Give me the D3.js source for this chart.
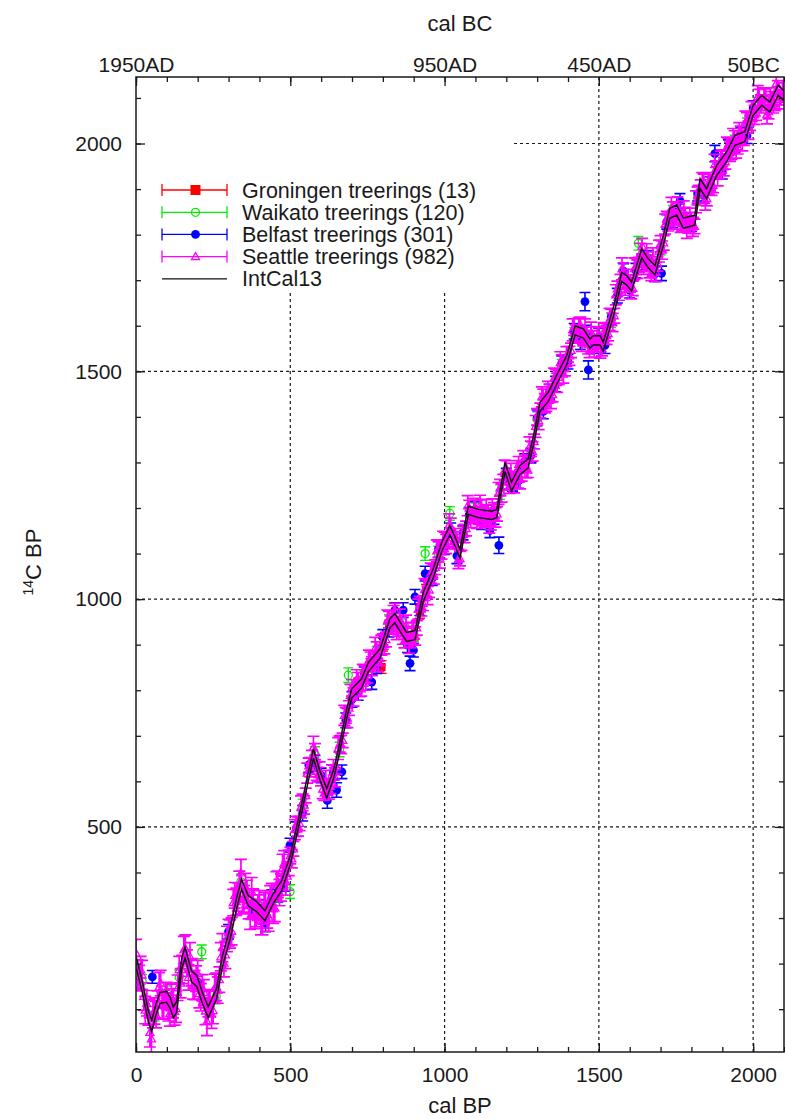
<!DOCTYPE html>
<html><head><meta charset="utf-8">
<script src="https://cdn.jsdelivr.net/npm/d3@7/dist/d3.min.js"></script>
<style>body{margin:0;background:#fff}svg{display:block}</style>
</head><body>
<svg id="c" width="785" height="1119"></svg>
<script>
// ---------- DATA ----------
const intcalBP = [0,20,40,51,65,78,99,110,121,132,148,159,180,197,215,234,261,280,305,326,342,364,391,418,445,472,500,531,555,575,595,618,640,656,683,699,731,753,791,823,839,860,877,904,931,963,991,1017,1035,1050,1077,1109,1153,1169,1196,1217,1244,1271,1293,1309,1336,1363,1396,1423,1450,1471,1482,1504,1514,1547,1574,1590,1606,1639,1660,1682,1710,1730,1752,1774,1811,1828,1849,1882,1914,1941,1973,2000,2028,2054,2081,2100];
const intcalC14 = [205,150,85,63,100,125,127,115,93,105,200,224,172,162,125,93,134,205,266,332,374,338,325,305,343,371,427,522,600,661,615,574,615,661,749,793,815,851,881,947,958,935,917,921,1005,1056,1115,1151,1125,1100,1195,1188,1184,1188,1290,1247,1283,1298,1364,1422,1444,1481,1525,1590,1583,1561,1568,1568,1554,1630,1707,1700,1686,1759,1737,1722,1790,1847,1854,1825,1832,1912,1890,1941,1971,2007,2015,2073,2095,2080,2117,2105];
const intcalSigma = [12,12,12,12,12,12,12,12,12,12,12,12,12,12,12,12,12,12,12,12,11,11,11,11,11,11,10,10,10,10,10,10,10,10,10,10,10,10,10,10,10,10,10,10,10,10,10,10,10,10,9,9,9,9,10,10,10,10,10,10,10,10,10,10,10,10,10,10,10,10,10,10,10,10,10,10,11,11,11,11,11,11,11,11,11,11,11,11,11,11,11,11];

// [cal BP, 14C BP, 1 sigma]
const groningen = [[720,812,14],[740,830,14],[760,855,14],[780,870,14],[796,851,14],[800,900,14],[820,940,14],[840,955,14],[860,932,14],[880,915,14],[900,922,14],[920,972,14],[940,1018,14]];
const waikato = [[20,160,16],[60,90,16],[100,135,16],[140,170,16],[213,226,15],[260,128,16],[300,255,16],[340,380,16],[380,335,16],[420,318,16],[460,350,16],[499,358,15],[540,545,16],[580,660,16],[620,585,16],[660,670,16],[688,833,16],[740,840,16],[780,880,16],[820,950,16],[860,940,16],[900,925,16],[937,1100,15],[980,1100,16],[1017,1188,15],[1060,1140,16],[1100,1195,16],[1140,1192,16],[1180,1235,16],[1220,1255,16],[1260,1300,16],[1300,1395,16],[1340,1455,16],[1380,1510,16],[1420,1580,16],[1460,1570,16],[1500,1572,16],[1540,1612,16],[1580,1708,16],[1628,1781,15],[1660,1740,16],[1700,1772,16],[1740,1848,16],[1780,1830,16],[1820,1880,16],[1860,1905,16],[1900,1960,16],[1940,2002,16],[1980,2040,16],[2020,2085,16],[2060,2092,16]];
const belfast = [[53,171,14],[100,120,16],[200,160,16],[300,270,16],[380,317,18],[400,322,18],[420,288,18],[440,345,17],[460,354,18],[480,376,17],[499,460,15],[520,495,16],[540,530,17],[560,636,16],[580,640,17],[600,613,16],[620,558,17],[640,620,16],[650,581,16],[667,621,15],[680,734,16],[700,780,17],[720,794,16],[740,835,16],[764,818,16],[780,853,16],[800,916,17],[820,933,16],[839,976,16],[866,976,16],[880,899,16],[888,859,16],[899,888,15],[904,1005,16],[920,980,16],[937,1056,16],[960,1046,16],[980,1109,17],[1000,1114,16],[1020,1151,16],[1040,1095,17],[1060,1146,16],[1080,1185,16],[1100,1197,17],[1120,1169,16],[1140,1190,16],[1147,1151,16],[1160,1180,16],[1176,1118,18],[1200,1271,16],[1220,1253,16],[1240,1260,17],[1260,1303,16],[1280,1315,16],[1300,1398,17],[1320,1412,16],[1340,1455,16],[1360,1472,17],[1380,1518,16],[1400,1521,16],[1420,1588,17],[1440,1566,18],[1455,1653,20],[1460,1583,18],[1466,1503,20],[1480,1557,18],[1500,1576,18],[1520,1557,18],[1540,1620,17],[1560,1666,16],[1580,1720,16],[1600,1678,17],[1620,1721,16],[1640,1739,16],[1660,1748,17],[1680,1713,16],[1703,1715,16],[1720,1828,16],[1740,1832,17],[1763,1874,16],[1780,1832,16],[1800,1824,17],[1820,1890,16],[1840,1886,16],[1860,1910,17],[1876,1978,18],[1900,1938,16],[1920,1991,17],[1940,1996,16],[1960,2020,16],[1980,2017,17],[2000,2078,16]];
const seattle = [[0,223,30],[5,177,31],[10,168,28],[15,187,29],[20,175,32],[25,128,30],[30,98,30],[35,113,28],[40,93,28],[45,49,32],[50,35,31],[55,89,30],[60,96,29],[65,88,29],[70,110,30],[75,149,31],[80,157,28],[85,108,30],[90,111,31],[95,130,28],[100,129,30],[105,105,31],[110,91,28],[115,126,29],[120,113,32],[125,95,30],[130,101,30],[135,147,28],[140,187,29],[145,157,32],[150,187,31],[155,230,30],[160,233,30],[165,201,29],[170,170,28],[175,215,31],[180,181,30],[185,152,30],[190,153,32],[195,167,28],[200,178,29],[205,134,31],[210,126,30],[215,147,29],[220,137,28],[225,96,30],[230,73,31],[235,111,28],[240,113,30],[245,90,32],[250,97,29],[255,147,30],[260,149,30],[265,142,29],[270,165,28],[275,215,31],[280,235,31],[285,201,30],[290,219,30],[295,254,28],[300,268,29],[305,265,31],[310,271,30],[315,334,29],[320,350,28],[325,336,30],[330,346,31],[335,375,28],[340,399,30],[345,341,32],[350,342,29],[355,368,30],[360,353,30],[365,327,29],[370,303,28],[375,358,31],[380,333,31],[385,307,30],[390,311,30],[395,323,28],[400,332,28],[405,294,31],[410,293,30],[415,327,29],[420,331,29],[425,308,30],[430,302,31],[435,343,28],[440,348,28],[445,320,32],[450,322,30],[455,372,30],[460,374,29],[465,356,29],[470,367,30],[475,409,31],[480,420,28],[485,380,30],[490,392,31],[495,421,28],
[500,437,18],[510,452,16],[520,506,17],[530,508,16],[540,554,18],[550,569,16],[560,634,17],[570,652,16],[580,665,18],[590,615,16],[600,607,17],[610,574,16],[620,588,18],[630,589,16],[640,631,17],[650,632,16],[660,682,18],[670,690,16],[680,745,17],[690,761,16],[700,805,18],[710,794,16],[720,822,17],[730,803,16],[740,836,18],[750,832,16],[760,867,17],[770,863,16],[780,888,18],[790,870,16],[800,907,17],[810,911,16],[820,955,18],[830,946,16],[840,974,17],[850,935,16],[860,942,18],[870,909,16],[880,922,17],[890,909,16],[900,930,18],[910,937,16],[920,989,17],[930,991,16],[940,1024,18],[950,1020,16],[960,1061,17],[970,1070,16],[980,1109,18],[990,1104,16],[1000,1130,17],[1010,1128,16],[1020,1160,18],[1030,1126,16],[1040,1131,17],[1050,1089,16],[1060,1142,18],[1070,1155,16],[1080,1200,17],[1090,1183,16],[1100,1199,18],[1110,1180,16],[1120,1201,17],[1130,1174,16],[1140,1189,18],[1150,1168,16],[1160,1195,17],[1170,1187,16],[1180,1245,18],[1190,1258,16],[1200,1287,17],[1210,1248,16],[1220,1262,18],[1230,1259,16],[1240,1296,17],[1250,1275,16],[1260,1299,18],[1270,1283,16],[1280,1330,17],[1290,1346,16],[1300,1400,18],[1310,1414,16],[1320,1444,17],[1330,1428,16],[1340,1454,18],[1350,1449,16],[1360,1487,17],[1370,1487,16],[1380,1518,18],[1390,1506,16],[1400,1537,17],[1410,1546,16],[1420,1597,18],[1430,1582,16],[1440,1602,17],[1450,1572,16],[1460,1579,18],[1470,1546,16],[1480,1572,17],[1490,1559,16],[1500,1578,18],[1510,1550,16],[1520,1589,17],[1530,1583,16],[1540,1619,18],[1550,1622,16],[1560,1681,17],[1570,1697,16],[1580,1720,18],[1590,1690,16],[1600,1694,17],[1610,1682,16],[1620,1730,18],[1630,1734,16],[1640,1775,17],[1650,1737,16],[1660,1744,18],[1670,1715,16],[1680,1728,17],[1690,1736,16],[1700,1780,18],[1710,1782,16],[1720,1834,17],[1730,1835,16],[1740,1854,18],[1750,1838,16],[1760,1851,17],[1770,1825,16],[1780,1842,18],[1790,1819,16],[1800,1832,17],[1810,1818,16],[1820,1887,18],[1830,1904,16],[1840,1916,17],[1850,1879,16],[1860,1914,18],[1870,1908,16],[1880,1945,17],[1890,1939,16],[1900,1968,18],[1910,1960,16],[1920,1994,17],[1930,1981,16],[1940,2010,18],[1950,1993,16],[1960,2021,17],[1970,2012,16],[1980,2050,18],[1990,2045,16],[2000,2075,17],[2010,2067,16],[2020,2101,18],[2030,2088,16],[2040,2103,17],[2050,2070,16],[2060,2096,18],[2070,2088,16],[2080,2121,17],[2090,2101,16],[2100,2115,18],
[505,430,20],[515,494,22],[525,501,21],[535,544,24],[545,548,20],[555,618,22],[565,631,21],[575,675,24],[585,622,20],[595,621,22],[605,583,21],[615,600,24],[625,581,20],[635,614,22],[645,609,21],[655,672,24],[665,681,20],[675,745,22],[685,739,21],[695,789,24],[705,785,20],[715,823,22],[725,807,21],[735,833,24],[745,820,20],[755,866,22],[765,853,21],[775,892,24],[785,861,20],[795,899,22],[805,901,21],[815,952,24],[825,943,20],[835,964,22],[845,932,21],[855,954,24],[865,921,20],[875,943,22],[885,902,21],[895,925,24],[905,919,20],[915,978,22],[925,984,21],[935,1021,24],[945,1008,20],[955,1057,22],[965,1054,21],[975,1106,24],[985,1088,20],[995,1127,22],[1005,1121,21],[1015,1163,24],[1025,1135,20],[1035,1133,22],[1045,1088,21],[1055,1131,24],[1065,1144,20],[1075,1205,22],[1085,1178,21],[1095,1197,24],[1105,1175,20],[1115,1206,22],[1125,1182,21],[1135,1195,24],[1145,1165,20],[1155,1198,22],[1165,1179,21],[1175,1232,24],[1185,1233,20],[1195,1283,22],[1205,1260,21],[1215,1274,24],[1225,1253,20],[1235,1282,22],[1245,1263,21],[1255,1302,24],[1265,1286,20],[1275,1334,22],[1285,1324,21],[1295,1379,24],[1305,1392,20],[1315,1444,22],[1325,1430,21],[1335,1454,24],[1345,1438,20],[1355,1485,22],[1365,1475,21],[1375,1519,24],[1385,1494,20],[1395,1532,22],[1405,1534,21],[1415,1591,24],[1425,1582,20],[1435,1596,22],[1445,1565,21],[1455,1591,24],[1465,1558,20],[1475,1586,22],[1485,1552,21],[1495,1574,24],[1505,1549,20],[1515,1585,22],[1525,1580,21],[1535,1614,24],[1545,1607,20],[1555,1668,22],[1565,1677,21],[1575,1725,24],[1585,1687,20],[1595,1702,22],[1605,1680,21],[1615,1725,24],[1625,1724,20],[1635,1759,22],[1645,1734,21],[1655,1756,24],[1665,1725,20],[1675,1749,22],[1685,1718,21],[1695,1764,24],[1705,1766,20],[1715,1823,22],[1725,1829,21],[1735,1858,24],[1745,1832,20],[1755,1861,22],[1765,1826,21],[1775,1850,24],[1785,1812,20],[1795,1836,22],[1805,1817,21],[1815,1872,24],[1825,1888,20],[1835,1914,22],[1845,1875,21],[1855,1912,24],[1865,1906,20],[1875,1954,22],[1885,1928,21],[1895,1959,24],[1905,1949,20],[1915,1992,22],[1925,1982,21],[1935,2009,24],[1945,1988,20],[1955,2024,22],[1965,2005,21],[1975,2047,24],[1985,2029,20],[1995,2070,22],[2005,2063,21],[2015,2103,24],[2025,2087,20],[2035,2100,22],[2045,2064,21],[2055,2098,24],[2065,2087,20],[2075,2132,22],[2085,2097,21],[2095,2114,24]];

const xMajorTicks = [0,500,1000,1500,2000];
const xMinorTicks = [0,100,200,300,400,500,600,700,800,900,1000,1100,1200,1300,1400,1500,1600,1700,1800,1900,2000,2100];
const topLabelBP = [0,500,1000,1500,2000];
const topLabels = ["1950AD","","950AD","450AD","50BC"];
const yMajorTicks = [500,1000,1500,2000];
const yMinorTicks = [100,200,300,400,500,600,700,800,900,1000,1100,1200,1300,1400,1500,1600,1700,1800,1900,2000,2100];
const gridX = [500,1000,1500,2000];
const gridY = [500,1000,1500,2000];
const legendLabels = ["Groningen treerings (13)","Waikato treerings (120)","Belfast treerings (301)","Seattle treerings (982)","IntCal13"];
const seriesColors = ["#ff0000","#00ee00","#0000ff","#ff00ff"];

// ---------- CHART ----------
const svg = d3.select('#c');
const L = 136, R = 784, T = 77, B = 1052;
const x = d3.scaleLinear().domain([0,2100]).range([L,R]);
const y = d3.scaleLinear().domain([6,2146]).range([B,T]);
const FONT = "'Liberation Sans', Arial, Helvetica, sans-serif";
const INK = "#1a1a1a";

svg.append('rect').attr('width',785).attr('height',1119).attr('fill','#fff');

const defs = svg.append('defs');
defs.append('clipPath').attr('id','clip').append('rect')
  .attr('x',L).attr('y',T).attr('width',R-L).attr('height',B-T);

// grid
const grid = svg.append('g').attr('stroke',INK).attr('stroke-width',1.2).attr('stroke-dasharray','3,3');
grid.selectAll('.gx').data(gridX).join('line')
  .attr('x1',d=>x(d)).attr('x2',d=>x(d)).attr('y1',T).attr('y2',B);
grid.selectAll('.gy').data(gridY).join('line')
  .attr('x1',L).attr('x2',R).attr('y1',d=>y(d)).attr('y2',d=>y(d));

// opaque key box
svg.append('rect').attr('x',L+1).attr('y',T+1).attr('width',512-L-1).attr('height',293-T-1).attr('fill','#fff');

// data
const plot = svg.append('g').attr('clip-path','url(#clip)');
function drawSeries(data, color, marker, sw, cap){
  const g = plot.append('g');
  let p = '';
  data.forEach(d => {
    const px = x(d[0]), y1 = y(d[1]-d[2]), y2 = y(d[1]+d[2]);
    p += `M${px},${y1}V${y2}M${px-cap},${y1}H${px+cap}M${px-cap},${y2}H${px+cap}`;
  });
  g.append('path').attr('d',p).attr('stroke',color).attr('stroke-width',sw).attr('fill','none');
  const m = g.selectAll('.m').data(data).join('g')
    .attr('transform',d=>`translate(${x(d[0])},${y(d[1])})`);
  marker(m, color);
}
const mSquare = (s,c)=>s.append('rect').attr('x',-4).attr('y',-4).attr('width',8).attr('height',8).attr('fill',c);
const mOpenCircle = (s,c)=>s.append('circle').attr('r',4).attr('fill','none').attr('stroke',c).attr('stroke-width',1.3);
const mCircle = (s,c)=>s.append('circle').attr('r',4.4).attr('fill',c);
const mTriangle = (s,c)=>s.append('path').attr('d','M0,-4L4,3L-4,3Z').attr('fill','none').attr('stroke',c).attr('stroke-width',1.3);

drawSeries(groningen, seriesColors[0], mSquare, 1.4, 5);
drawSeries(waikato, seriesColors[1], mOpenCircle, 1.4, 5);
drawSeries(belfast, seriesColors[2], mCircle, 1.6, 5.5);
drawSeries(seattle, seriesColors[3], mTriangle, 1.7, 6);

// IntCal13 (mean +/- 1 sigma)
const ic = intcalBP.map((b,i)=>({b, c:intcalC14[i], s:intcalSigma[i]}));
const lineUp = d3.line().x(d=>x(d.b)).y(d=>y(d.c+d.s));
const lineDn = d3.line().x(d=>x(d.b)).y(d=>y(d.c-d.s));
plot.append('path').datum(ic).attr('d',lineUp).attr('fill','none').attr('stroke','#111').attr('stroke-width',1.5);
plot.append('path').datum(ic).attr('d',lineDn).attr('fill','none').attr('stroke','#111').attr('stroke-width',1.5);

// axes
function styleAxis(g){
  g.attr('font-family',FONT).attr('font-size',21).attr('color',INK);
  g.select('.domain').remove();
  g.selectAll('.tick line').attr('stroke-width',1.3);
}
svg.append('g').attr('transform',`translate(0,${B})`)
  .call(d3.axisBottom(x).tickValues(xMinorTicks).tickSizeInner(-5).tickSizeOuter(0).tickFormat('')).call(styleAxis);
svg.append('g').attr('transform',`translate(0,${B})`)
  .call(d3.axisBottom(x).tickValues(xMajorTicks).tickSizeInner(-9).tickSizeOuter(0).tickPadding(15).tickFormat(d3.format('d'))).call(styleAxis);
svg.append('g').attr('transform',`translate(0,${T})`)
  .call(d3.axisTop(x).tickValues(xMinorTicks).tickSizeInner(-5).tickSizeOuter(0).tickFormat('')).call(styleAxis);
svg.append('g').attr('transform',`translate(0,${T})`)
  .call(d3.axisTop(x).tickValues(topLabelBP).tickSizeInner(-9).tickSizeOuter(0).tickPadding(5).tickFormat((d,i)=>topLabels[i])).call(styleAxis);
svg.append('g').attr('transform',`translate(${L},0)`)
  .call(d3.axisLeft(y).tickValues(yMinorTicks).tickSizeInner(-5).tickSizeOuter(0).tickFormat('')).call(styleAxis);
svg.append('g').attr('transform',`translate(${L},0)`)
  .call(d3.axisLeft(y).tickValues(yMajorTicks).tickSizeInner(-9).tickSizeOuter(0).tickPadding(14).tickFormat(d3.format('d'))).call(styleAxis);
svg.append('g').attr('transform',`translate(${R},0)`)
  .call(d3.axisRight(y).tickValues(yMinorTicks).tickSizeInner(-5).tickSizeOuter(0).tickFormat('')).call(styleAxis);
svg.append('g').attr('transform',`translate(${R},0)`)
  .call(d3.axisRight(y).tickValues(yMajorTicks).tickSizeInner(-9).tickSizeOuter(0).tickFormat('')).call(styleAxis);

// frame
svg.append('rect').attr('x',L).attr('y',T).attr('width',R-L).attr('height',B-T)
  .attr('fill','none').attr('stroke',INK).attr('stroke-width',1.5);

// axis titles
svg.append('text').attr('x',460).attr('y',31).attr('text-anchor','middle')
  .attr('font-family',FONT).attr('font-size',22).attr('fill',INK).text('cal BC');
svg.append('text').attr('x',460).attr('y',1113).attr('text-anchor','middle')
  .attr('font-family',FONT).attr('font-size',22).attr('fill',INK).text('cal BP');
const yl = svg.append('text').attr('transform','translate(41,562) rotate(-90)').attr('text-anchor','middle')
  .attr('font-family',FONT).attr('font-size',22).attr('fill',INK);
yl.append('tspan').attr('font-size',14).attr('dy',-8).text('14');
yl.append('tspan').attr('dy',8).text('C BP');

// legend
const legY = [190,212.3,234.4,256.6,278.8];
const lg = svg.append('g');
const markers = [mSquare, mOpenCircle, mCircle, mTriangle];
legendLabels.forEach((t,i)=>{
  const g = lg.append('g').attr('transform',`translate(0,${legY[i]})`);
  if(i<4){
    const c = seriesColors[i];
    g.append('path').attr('d',`M162,0H227M162,-6V6M227,-6V6`).attr('stroke',c).attr('stroke-width',1.3).attr('fill','none');
    const m = g.append('g').attr('transform','translate(195.5,0)');
    if(i===0) m.append('rect').attr('x',-5).attr('y',-5).attr('width',10).attr('height',10).attr('fill',c);
    else markers[i](m,c);
  } else {
    g.append('path').attr('d','M162,0H227').attr('stroke','#111').attr('stroke-width',1.3);
  }
  g.append('text').attr('x',242).attr('dy','0.35em').attr('font-family',FONT).attr('font-size',21.5)
    .attr('fill',INK).text(t);
});
</script>
</body></html>
